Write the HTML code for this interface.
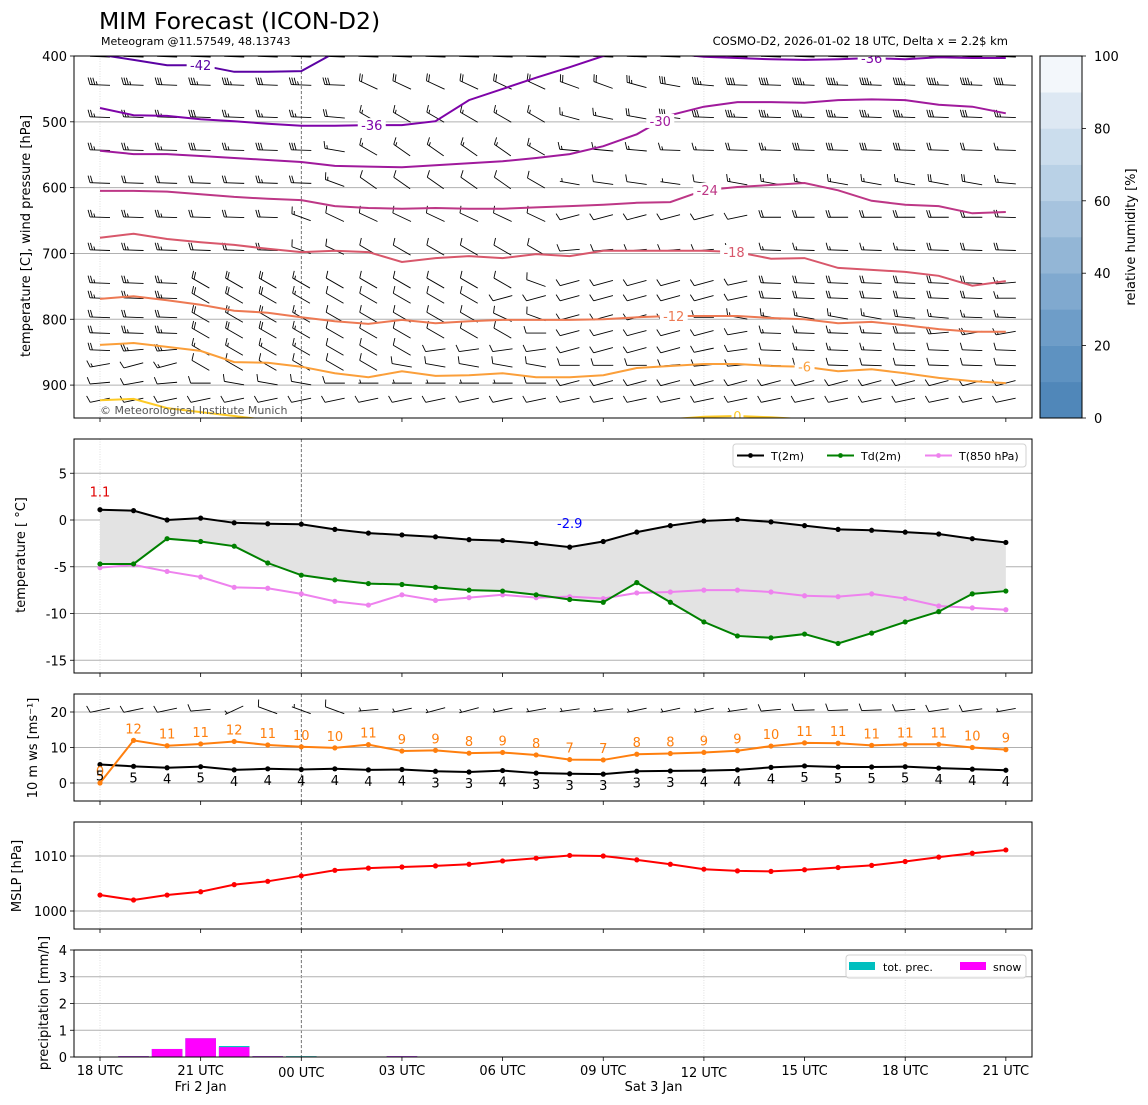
<!DOCTYPE html>
<html><head><meta charset="utf-8"><title>MIM Forecast (ICON-D2)</title>
<style>
html,body{margin:0;padding:0;background:#fff;}
svg{display:block;font-family:"DejaVu Sans","Liberation Sans",sans-serif;}
</style></head>
<body>
<svg id="chart" xmlns="http://www.w3.org/2000/svg" width="1148" height="1105" viewBox="0 0 1148 1105">
<rect x="0" y="0" width="1148" height="1105" fill="#fff"/>
<text x="99" y="29" font-size="23.5" fill="#000">MIM Forecast (ICON-D2)</text>
<text x="101" y="45" font-size="11" fill="#000">Meteogram @11.57549, 48.13743</text>
<text x="1008" y="45" font-size="11.5" fill="#000" text-anchor="end">COSMO-D2, 2026-01-02 18 UTC, Delta x = 2.2$ km</text>
<defs>
<clipPath id="clipTop"><rect x="74" y="56" width="958" height="362"/></clipPath>
<clipPath id="clipT"><rect x="74" y="439" width="958" height="234"/></clipPath>
<clipPath id="clipW"><rect x="74" y="694" width="958" height="107"/></clipPath>
<clipPath id="clipM"><rect x="74" y="822" width="958" height="107"/></clipPath>
<clipPath id="clipR"><rect x="74" y="950" width="958" height="107"/></clipPath>
</defs>
<g id="layer"></g>
</svg>
<script>
// ---------- data ----------
const hours = [0,1,2,3,4,5,6,7,8,9,10,11,12,13,14,15,16,17,18,19,20,21,22,23,24,25,26,27];
const tickHours = [0,3,6,9,12,15,18,21,24,27];
const tickLabels = ["18 UTC","21 UTC","00 UTC","03 UTC","06 UTC","09 UTC","12 UTC","15 UTC","18 UTC","21 UTC"];
const dateLabels = ["Fri 2 Jan","Sat 3 Jan"];
const dateHours = [3,16.5];

const t2m = [1.1,1.0,0.0,0.2,-0.3,-0.4,-0.45,-1.0,-1.4,-1.6,-1.8,-2.1,-2.2,-2.5,-2.9,-2.3,-1.3,-0.6,-0.1,0.05,-0.2,-0.6,-1.0,-1.1,-1.3,-1.5,-2.0,-2.4];
const td2m = [-4.7,-4.7,-2.0,-2.3,-2.8,-4.6,-5.9,-6.4,-6.8,-6.9,-7.2,-7.5,-7.6,-8.0,-8.5,-8.8,-6.7,-8.8,-10.9,-12.4,-12.6,-12.2,-13.2,-12.1,-10.9,-9.8,-7.9,-7.6];
const t850 = [-5.1,-4.8,-5.5,-6.1,-7.2,-7.3,-7.9,-8.7,-9.1,-8.0,-8.6,-8.3,-8.0,-8.3,-8.2,-8.4,-7.8,-7.7,-7.5,-7.5,-7.7,-8.1,-8.2,-7.9,-8.4,-9.2,-9.4,-9.6];
const tempTicks = [5,0,-5,-10,-15];

const ws10 = [5.2,4.7,4.3,4.6,3.7,4.0,3.8,4.0,3.7,3.8,3.3,3.1,3.5,2.8,2.6,2.5,3.3,3.4,3.5,3.7,4.4,4.8,4.5,4.5,4.6,4.2,3.9,3.6];
const gust10 = [0,12,10.5,11,11.7,10.7,10.2,9.9,10.8,9.0,9.2,8.4,8.6,7.9,6.6,6.5,8.1,8.3,8.6,9.1,10.4,11.3,11.2,10.6,10.9,10.9,10.0,9.4];
const windTicks = [20,10,0];
const barb10Speed = [10,9,8,9,7,8,7,8,7,7,6,6,7,5,5,5,6,7,7,7,9,9,9,9,9,8,8,7];
const barb10Dir = [258,258,258,265,245,290,290,290,265,258,255,255,258,260,262,262,258,258,258,262,265,268,268,268,265,262,262,260];

const mslp = [1002.9,1002.0,1002.9,1003.5,1004.8,1005.4,1006.4,1007.4,1007.8,1008.0,1008.2,1008.5,1009.1,1009.6,1010.1,1010.0,1009.3,1008.5,1007.6,1007.3,1007.2,1007.5,1007.9,1008.3,1009.0,1009.8,1010.5,1011.1];
const mslpTicks = [1010,1000];

const precipTot = [0,0.03,0.3,0.7,0.41,0.03,0.03,0,0,0.03,0,0,0,0,0,0,0,0,0,0,0,0,0,0,0,0,0,0];
const precipSnow = [0,0.03,0.3,0.7,0.37,0.03,0,0,0,0.03,0,0,0,0,0,0,0,0,0,0,0,0,0,0,0,0,0,0];
const precipTicks = [4,3,2,1,0];

const presTicks = [400,500,600,700,800,900];
const rhTicks = [0,20,40,60,80,100];
const rhBands = [0,10,20,30,40,50,60,70,80,90];

// temperature contours (pressure [hPa] of each isotherm per hour)
const contourLevels = [-42,-36,-36,-30,-24,-18,-12,-6,0,0];
const cM42 = [398,406,414,414,424,424,423,395,null,null,null,null,null,null,null,null,null,null,null,null,null,null,null,null,null,null,null,null];
const cM36a = [479,490,491,496,499,503,506,506,505,505,499,467,450,433,417,400,385,null,null,null,null,null,null,null,null,null,null,null];
const cM36b = [null,null,null,null,null,null,null,null,null,null,null,null,null,null,null,null,null,396,401,403,405,406,405,403,405,402,403,403];
const cM30 = [544,549,549,552,555,558,561,567,568,569,566,563,560,555,549,537,519,490,477,470,470,471,467,466,467,474,477,487];
const cM24 = [605,605,606,610,614,617,619,628,631,632,631,632,632,630,628,626,623,622,604,599,596,593,604,620,626,628,639,637];
const cM18 = [676,670,678,683,687,693,698,696,698,713,707,704,707,701,704,696,696,696,696,698,708,707,722,725,728,734,749,742];
const cM12 = [769,765,771,778,787,790,797,803,807,801,806,803,801,801,801,800,797,795,795,795,798,800,806,804,809,815,819,819];
const cM6 = [839,836,842,848,865,866,872,882,888,879,886,885,882,888,888,885,874,871,868,868,871,872,879,876,882,889,894,897];
const c0a = [923,921,935,941,947,953,null,null,null,null,null,null,null,null,null,null,null,null,null,null,null,null,null,null,null,null,null,null];
const c0b = [null,null,null,null,null,null,null,null,null,null,null,null,null,null,null,null,null,952,948,947,949,952,null,null,null,null,null,null];
const contourLabelHours = [3,8.1,23,16.7,18.1,18.9,17.1,21,null,19];

// wind barbs in the upper panel (knots, direction from)
const barbLevels = [401,444,493,543,593,645,695,745,768,797,821,847,870,897,923];
const spd400 = [40,40,40,40,40,40,40,40,35,35,35,35,35,35,40,40,40,40,40,45,45,45,45,45,45,45,45,45];
const spd450 = [35,35,30,35,35,30,35,30,20,20,20,20,20,20,20,20,25,30,35,40,40,45,45,45,45,45,45,40];
const spd500 = [25,25,25,30,25,25,25,20,15,15,15,15,15,15,15,15,20,30,30,35,35,35,35,35,35,30,30,25];
const spd550 = [25,25,25,30,25,30,30,15,15,15,15,15,15,15,15,15,15,15,15,20,25,30,30,30,30,20,20,15];
const spd600 = [20,20,20,20,20,25,20,15,10,10,10,10,10,10,5,10,10,5,10,15,15,15,15,15,15,20,20,15];
const spd650 = [25,25,25,20,20,20,15,10,10,10,10,10,10,10,10,10,10,10,10,10,20,20,20,20,20,20,20,20];
const spd700 = [25,25,25,20,20,20,10,10,10,10,10,10,10,10,10,10,10,10,10,15,15,15,15,15,15,20,20,20];
const spd750 = [25,25,25,20,20,20,15,10,10,10,10,10,10,10,10,10,10,10,10,10,20,20,20,20,20,20,20,15];
const spd775 = [25,25,25,20,20,20,15,10,10,10,10,10,10,10,10,10,10,10,10,10,20,20,20,20,20,20,20,15];
const spd800 = [20,20,20,20,20,20,15,10,10,10,10,10,10,10,10,10,10,10,10,15,15,15,15,15,20,15,15,15];
const spd825 = [20,25,25,20,20,20,15,10,10,10,10,10,10,10,10,10,10,10,10,10,15,15,15,15,20,20,20,15];
const spd850 = [20,25,25,15,15,15,15,10,10,10,10,10,10,10,10,10,10,10,10,10,10,15,15,15,10,10,10,10];
const spd875 = [15,10,15,10,10,10,10,10,10,10,10,10,10,10,10,10,10,10,10,10,10,10,10,10,10,10,10,10];
const spd900 = [10,10,10,10,10,10,10,10,5,5,5,5,5,10,10,10,10,10,10,10,10,10,10,10,10,10,10,10];
const spd925 = [10,10,10,10,10,10,10,10,10,10,10,10,10,10,10,10,10,10,10,10,10,10,10,10,10,10,10,10];
const dir400 = [272,272,272,272,272,272,272,272,272,272,272,272,272,272,272,272,272,272,272,272,272,272,272,272,272,272,272,272];
const dir450 = [272,272,272,272,272,272,272,272,295,295,295,295,295,295,290,290,285,280,275,272,272,272,272,272,272,272,272,272];
const dir500 = [272,272,272,272,272,272,272,275,300,300,300,300,300,300,285,282,280,278,272,272,272,272,272,272,272,272,272,272];
const dir550 = [272,272,272,272,272,272,272,280,300,305,305,305,305,300,275,275,275,272,272,272,272,272,272,272,272,272,272,272];
const dir600 = [272,272,272,272,272,272,272,290,305,305,305,305,305,300,280,278,278,278,278,280,280,280,280,280,280,280,280,275];
const dir650 = [272,272,272,272,272,272,290,295,295,295,295,295,295,295,255,255,255,255,255,258,270,270,270,270,270,270,270,272];
const dir700 = [272,272,272,272,272,272,290,295,300,300,300,300,300,300,265,265,265,265,265,270,272,272,272,272,272,272,272,272];
const dir750 = [272,272,272,300,300,300,300,300,300,300,300,300,300,290,255,255,255,255,255,258,272,272,272,272,272,272,272,265];
const dir775 = [272,272,272,300,300,300,300,300,300,300,300,300,255,255,255,255,255,255,255,258,272,272,272,272,272,272,272,270];
const dir800 = [272,272,272,300,300,300,300,300,300,300,300,300,295,290,255,255,255,255,270,280,280,280,280,280,275,275,272,272];
const dir825 = [272,272,272,300,300,300,300,300,300,300,300,300,300,270,255,255,255,255,255,260,272,272,272,272,270,265,260,260];
const dir850 = [272,265,265,300,300,300,300,300,300,300,262,262,262,262,255,255,255,255,258,262,272,272,272,272,272,272,272,272];
const dir875 = [260,255,255,300,300,300,300,300,300,280,280,280,280,280,270,270,270,265,265,265,272,272,272,272,272,272,272,272];
const dir900 = [265,260,265,270,280,280,280,270,270,270,270,270,270,270,255,255,255,255,255,255,255,255,255,255,255,255,255,255];
const dir925 = [258,258,258,258,258,258,258,258,258,258,258,258,258,258,258,258,258,258,258,258,258,258,258,258,258,258,258,258];

// ---------- scales ----------
const X0 = 74, X1 = 1032;
function xS(h){ return 100 + h*33.55; }
function yP(p){ return 56 + (p-400)*0.65818; }
function yT(t){ return 520 - t*9.35; }
function yW(v){ return 783 - v*3.55; }
function yM(p){ return 856 - (p-1010)*5.5; }
function yR(v){ return 1057 - v*26.75; }
function yRH(r){ return 418 - r*3.62; }

const NS = "http://www.w3.org/2000/svg";
const root = document.getElementById('layer');
function mk(tag, attrs, parent){
  const e = document.createElementNS(NS, tag);
  for (const k in attrs) e.setAttribute(k, attrs[k]);
  (parent||root).appendChild(e);
  return e;
}
function txt(s, x, y, size, anchor, fill, parent){
  const e = mk('text', {x:x, y:y, 'font-size':size, 'text-anchor':anchor||'start', fill:fill||'#000'}, parent);
  e.textContent = s;
  return e;
}

const panels = [
  {name:'upper-air-panel', top:56, bot:418, clip:'clipTop'},
  {name:'temperature-panel', top:439, bot:673, clip:'clipT'},
  {name:'wind-panel', top:694, bot:801, clip:'clipW'},
  {name:'mslp-panel', top:822, bot:929, clip:'clipM'},
  {name:'precip-panel', top:950, bot:1057, clip:'clipR'}
];

panels.forEach(function(p, pi){
  const g = mk('g', {});
  
  
  p.g = g;
  const grid = mk('g', {}, g);
  
  
  p.grid = grid;
  [0,6,18,24].forEach(function(h){
    mk('line', {x1:xS(h), x2:xS(h), y1:p.top, y2:p.bot, stroke:'#d8d8d8', 'stroke-width':0.8, 'stroke-dasharray':'1,1.5'}, grid);
  });
  mk('line', {x1:xS(6), x2:xS(6), y1:p.top, y2:p.bot, stroke:'#555', 'stroke-width':0.8, 'stroke-dasharray':'3,2'}, grid);
  const ticks = mk('g', {}, g);
  
  
  tickHours.forEach(function(h){
    mk('line', {x1:xS(h), x2:xS(h), y1:p.bot, y2:p.bot+4, stroke:'#000', 'stroke-width':0.8}, ticks);
  });
  p.plot = mk('g', {'clip-path':'url(#'+p.clip+')'}, g);
});
function yGrid(p, vals, fy, labels){
  const ax = mk('g', {}, p.g);
  
  
  vals.forEach(function(v, i){
    const y = fy(v);
    if (y > p.top + 0.5 && y < p.bot - 0.5) mk('line', {x1:X0, x2:X1, y1:y, y2:y, stroke:'#b0b0b0', 'stroke-width':1}, p.grid);
    mk('line', {x1:X0-4, x2:X0, y1:y, y2:y, stroke:'#000', 'stroke-width':0.8}, ax);
    txt(labels ? labels[i] : String(v), 67, y+5, 13, 'end', '#000', ax);
  });
}
yGrid(panels[0], presTicks, yP);
yGrid(panels[1], tempTicks, yT);
yGrid(panels[2], windTicks, yW);
yGrid(panels[3], mslpTicks, yM);
yGrid(panels[4], precipTicks, yR);

// ---------- wind barbs ----------
function barb(parent, cx, cy, spd, dir, L){
  const r = dir*Math.PI/180;
  const ux = Math.sin(r), uy = -Math.cos(r);
  const nx = -uy, ny = ux;
  const sx = cx - ux*L/2, sy = cy - uy*L/2;
  const ex = cx + ux*L/2, ey = cy + uy*L/2;
  const g = mk('g', {stroke:'#000', 'stroke-width':0.9, fill:'none'}, parent);
  
  
  mk('line', {x1:sx, y1:sy, x2:ex, y2:ey}, g);
  let s = Math.round(spd/5)*5;
  const flags = Math.floor(s/50); s -= flags*50;
  const full = Math.floor(s/10); s -= full*10;
  const half = s >= 5 ? 1 : 0;
  const tl = 7, sp = 2.4;
  let k = 0;
  for (let i=0;i<flags;i++){
    const bx = ex - ux*k*sp, by = ey - uy*k*sp;
    mk('polygon', {points: bx+','+by+' '+(bx+nx*tl+ux*1.5)+','+(by+ny*tl+uy*1.5)+' '+(bx-ux*3)+','+(by-uy*3), fill:'#000'}, g);
    k += 1.6;
  }
  for (let i=0;i<full;i++){
    const bx = ex - ux*k*sp, by = ey - uy*k*sp;
    mk('line', {x1:bx, y1:by, x2:bx+nx*tl+ux*2.2, y2:by+ny*tl+uy*2.2}, g);
    k += 1;
  }
  if (half){
    if (k === 0) k = 1;
    const bx = ex - ux*k*sp, by = ey - uy*k*sp;
    mk('line', {x1:bx, y1:by, x2:bx+nx*tl*0.5+ux*1.1, y2:by+ny*tl*0.5+uy*1.1}, g);
  }
}
const spdRows = [spd400,spd450,spd500,spd550,spd600,spd650,spd700,spd750,spd775,spd800,spd825,spd850,spd875,spd900,spd925];
const dirRows = [dir400,dir450,dir500,dir550,dir600,dir650,dir700,dir750,dir775,dir800,dir825,dir850,dir875,dir900,dir925];
const barbG = mk('g', {}, panels[0].plot);


barbLevels.forEach(function(lev, li){
  hours.forEach(function(h, i){
    barb(barbG, xS(h), yP(lev), spdRows[li][i], dirRows[li][i], 20);
  });
});

// ---------- contours ----------
const plasma = {'-42':'#5b02a3','-36':'#7e03a8','-30':'#a01a9c','-24':'#bd3786','-18':'#d8576b','-12':'#ed7953','-6':'#fb9f3a','0':'#fdca26'};
const contourArrays = [cM42,cM36a,cM36b,cM30,cM24,cM18,cM12,cM6,c0a,c0b];
const contG = mk('g', {}, panels[0].plot);


contourArrays.forEach(function(arr, ci){
  const col = plasma[String(contourLevels[ci])];
  let pts = [];
  const flush = function(){
    if (pts.length > 1){
      const pl = mk('polyline', {points: pts.join(' '), fill:'none', stroke:col, 'stroke-width':2}, contG);
      
      
    }
    pts = [];
  };
  arr.forEach(function(v, i){
    if (v === null) flush(); else pts.push(xS(hours[i]).toFixed(1)+','+yP(v).toFixed(1));
  });
  flush();
});
contourArrays.forEach(function(arr, ci){
  const h = contourLabelHours[ci];
  if (h === null) return;
  const i0 = Math.floor(h), f = h - i0;
  const a = arr[i0], b = arr[i0+1] === null || arr[i0+1] === undefined ? a : arr[i0+1];
  const p = a + (b - a)*f;
  const x = xS(h), y = yP(p);
  const lab = String(contourLevels[ci]);
  const w = lab.length*8 + 4;
  mk('rect', {x:x-w/2, y:y-7, width:w, height:14, fill:'#fff'}, contG);
  const t = txt(lab, x, y+5, 13, 'middle', plasma[lab], contG);
  
  
});
const copy = txt('\u00a9 Meteorological Institute Munich', 100, 414, 11, 'start', '#555', panels[0].g);



// ---------- temperature panel ----------
const tp = panels[1].plot;
let fillPts = hours.map(function(h,i){ return xS(h)+','+yT(t2m[i]); });
fillPts = fillPts.concat(hours.slice().reverse().map(function(h){ const i = h; return xS(h)+','+yT(td2m[i]); }));
const fillPoly = mk('polygon', {points: fillPts.join(' '), fill:'#e3e3e3', stroke:'none'}, tp);


function series(parent, vals, fy, color, name){
  const g = mk('g', {}, parent);
  
  
  mk('polyline', {points: hours.map(function(h,i){ return xS(h)+','+fy(vals[i]); }).join(' '), fill:'none', stroke:color, 'stroke-width':2}, g);
  hours.forEach(function(h,i){
    const c = mk('circle', {cx:xS(h), cy:fy(vals[i]), r:2.6, fill:color}, g);
    
    
  });
  return g;
}
series(tp, t850, yT, '#ee82ee', 't850-line');
series(tp, td2m, yT, '#008000', 'td2m-line');
series(tp, t2m, yT, '#000000', 't2m-line');
let iMax = 0, iMin = 0;
t2m.forEach(function(v,i){ if (v > t2m[iMax]) iMax = i; if (v < t2m[iMin]) iMin = i; });
const mxl = txt(t2m[iMax].toFixed(1), xS(hours[iMax]), yT(t2m[iMax]) - 13, 13, 'middle', '#e00000', panels[1].g);


const mnl = txt(t2m[iMin].toFixed(1), xS(hours[iMin]), yT(t2m[iMin]) - 19, 13, 'middle', '#0000ff', panels[1].g);


const lg = mk('g', {}, panels[1].g);


mk('rect', {x:733, y:444, width:293, height:23, rx:3, fill:'#fff', 'fill-opacity':0.85, stroke:'#d0d0d0'}, lg);
[[737,'#000','T(2m)'],[827,'#008000','Td(2m)'],[925,'#ee82ee','T(850 hPa)']].forEach(function(e){
  const eg = mk('g', {}, lg);
  
  
  mk('line', {x1:e[0], x2:e[0]+27, y1:455.5, y2:455.5, stroke:e[1], 'stroke-width':2}, eg);
  mk('circle', {cx:e[0]+13.5, cy:455.5, r:2.4, fill:e[1]}, eg);
  txt(e[2], e[0]+34, 460, 11, 'start', '#000', eg);
});

// ---------- wind panel ----------
const wp = panels[2].plot;
const wb = mk('g', {}, wp);


hours.forEach(function(h,i){ barb(wb, xS(h), yW(20.5), barb10Speed[i], barb10Dir[i], 20); });
series(wp, ws10, yW, '#000000', 'wind-speed-line');
series(wp, gust10, yW, '#ff7f0e', 'gust-line');
const wl = mk('g', {}, panels[2].g);


hours.forEach(function(h,i){
  txt(String(Math.round(gust10[i])), xS(h), yW(gust10[i]) - 7, 13, 'middle', '#ff7f0e', wl);
  txt(String(Math.round(ws10[i])), xS(h), yW(ws10[i]) + 16, 13, 'middle', '#000', wl);
});

// ---------- mslp ----------
series(panels[3].plot, mslp, yM, '#ff0000', 'mslp-line');

// ---------- precip ----------
const rp = panels[4].plot;
hours.forEach(function(h,i){
  if (precipTot[i] > 0){
    const b = mk('rect', {x:xS(h)-15.3, y:yR(precipTot[i]), width:30.6, height:yR(0)-yR(precipTot[i]), fill:'#00bfbf'}, rp);
    
    
  }
  if (precipSnow[i] > 0){
    const b = mk('rect', {x:xS(h)-15.3, y:yR(precipSnow[i]), width:30.6, height:yR(0)-yR(precipSnow[i]), fill:'#ff00ff'}, rp);
    
    
  }
});
const pl = mk('g', {}, panels[4].g);


mk('rect', {x:846, y:955, width:180, height:23, rx:3, fill:'#fff', 'fill-opacity':0.85, stroke:'#d0d0d0'}, pl);
mk('rect', {x:849, y:962, width:26, height:8, fill:'#00bfbf'}, pl);
txt('tot. prec.', 883, 971, 11, 'start', '#000', pl);
mk('rect', {x:960, y:962, width:26, height:8, fill:'#ff00ff'}, pl);
txt('snow', 993, 971, 11, 'start', '#000', pl);

panels.forEach(function(p){
  const f = mk('rect', {x:X0, y:p.top, width:X1-X0, height:p.bot-p.top, fill:'none', stroke:'#000', 'stroke-width':1}, p.g);
  
  
});

const xl = mk('g', {});


tickHours.forEach(function(h,i){
  const low = (tickLabels[i] === '00 UTC' || tickLabels[i] === '12 UTC') && i > 0 && i < 9;
  txt(tickLabels[i], xS(h), low ? 1077 : 1075, 13, 'middle', '#000', xl);
});
dateHours.forEach(function(h,i){ txt(dateLabels[i], xS(h), 1091, 13, 'middle', '#000', xl); });

function vtitle(s, x, y, name){
  const t = txt(s, 0, 0, 13, 'middle', '#000');
  t.setAttribute('transform', 'translate('+x+','+y+') rotate(-90)');
  
  
}
vtitle('temperature [C], wind pressure [hPa]', 30, 236, 'upper-y-axis-title');
vtitle('temperature [ \u00b0C]', 25, 555, 'temperature-y-axis-title');
vtitle('10 m ws [ms\u207b\u00b9]', 37, 748, 'wind-y-axis-title');
vtitle('MSLP [hPa]', 21, 876, 'mslp-y-axis-title');
vtitle('precipitation [mm/h]', 48, 1003, 'precip-y-axis-title');
vtitle('relative humidity [%]', 1135, 237, 'colorbar-title');

const cbColors = ['#5087b9','#5e92c1','#6e9dc8','#80a9cf','#93b6d6','#a6c3de','#b9d1e6','#cbdded','#dde8f3','#f3f7fb'];
const cb = mk('g', {});


rhBands.forEach(function(r,i){
  mk('rect', {x:1040, y:yRH(r+10), width:42, height:yRH(r)-yRH(r+10)+0.3, fill:cbColors[i]}, cb);
});
mk('rect', {x:1040, y:56, width:42, height:362, fill:'none', stroke:'#000', 'stroke-width':1}, cb);
rhTicks.forEach(function(r){
  mk('line', {x1:1082, x2:1086, y1:yRH(r), y2:yRH(r), stroke:'#000', 'stroke-width':0.8}, cb);
  txt(String(r), 1094, yRH(r)+5, 13, 'start', '#000', cb);
});
</script>
</body></html>
